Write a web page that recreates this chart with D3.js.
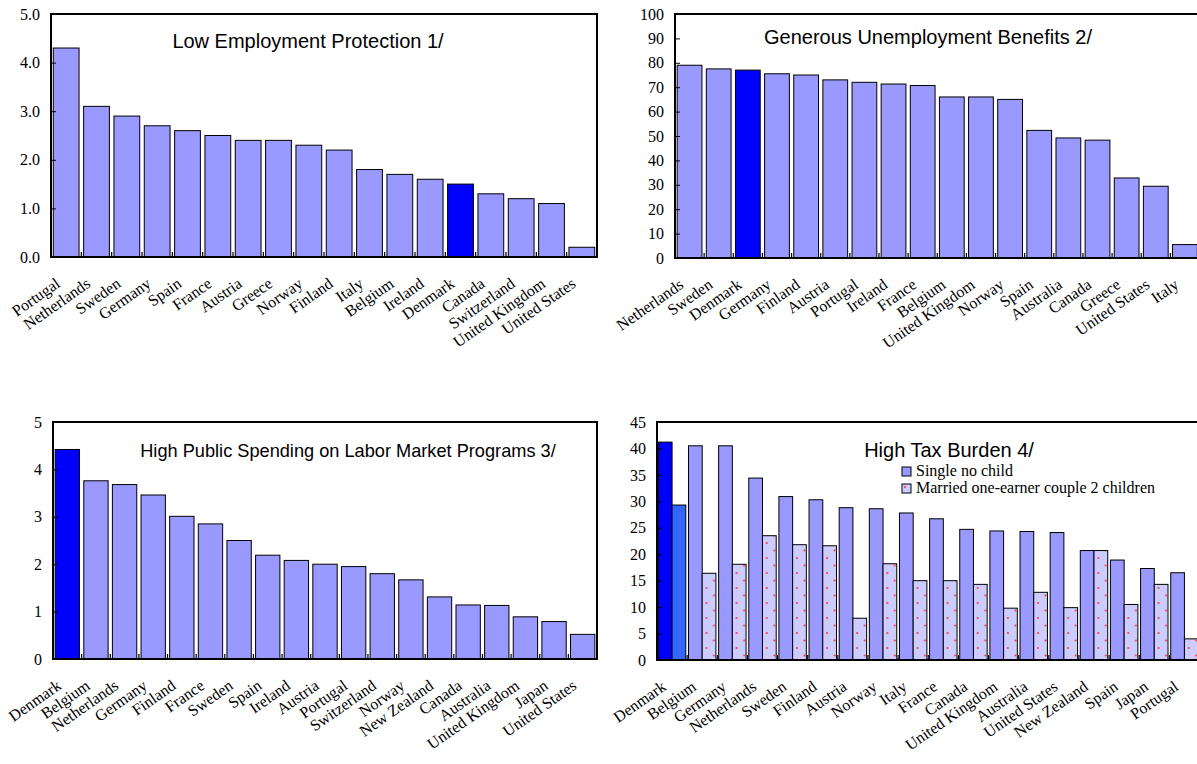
<!DOCTYPE html>
<html>
<head>
<meta charset="utf-8">
<script src="https://cdn.jsdelivr.net/npm/d3@7"></script>
<style>
  body { margin: 0; background: #fff; }
  svg { display: block; }
</style>
</head>
<body>
<svg id="chart" width="1197" height="764"></svg>
<script>
// ---- Data ----
const protectionCountries = ["Portugal", "Netherlands", "Sweden", "Germany", "Spain", "France", "Austria", "Greece", "Norway", "Finland", "Italy", "Belgium", "Ireland", "Denmark", "Canada", "Switzerland", "United Kingdom", "United States"];
const protectionValues = [4.3, 3.1, 2.9, 2.7, 2.6, 2.5, 2.4, 2.4, 2.3, 2.2, 1.8, 1.7, 1.6, 1.5, 1.3, 1.2, 1.1, 0.2];
const protectionTicks = [0, 1, 2, 3, 4, 5];

const benefitCountries = ["Netherlands", "Sweden", "Denmark", "Germany", "Finland", "Austria", "Portugal", "Ireland", "France", "Belgium", "United Kingdom", "Norway", "Spain", "Australia", "Canada", "Greece", "United States", "Italy"];
const benefitValues = [79, 77.5, 77, 75.5, 75, 73, 72, 71.3, 70.7, 66, 66, 65, 52.3, 49.2, 48.3, 32.8, 29.4, 5.5];
const benefitTicks = [0, 10, 20, 30, 40, 50, 60, 70, 80, 90, 100];

const spendingCountries = ["Denmark", "Belgium", "Netherlands", "Germany", "Finland", "France", "Sweden", "Spain", "Ireland", "Austria", "Portugal", "Switzerland", "Norway", "New Zealand", "Canada", "Australia", "United Kingdom", "Japan", "United States"];
const spendingValues = [4.42, 3.76, 3.68, 3.46, 3.01, 2.85, 2.5, 2.19, 2.08, 2.0, 1.95, 1.8, 1.67, 1.31, 1.14, 1.13, 0.89, 0.79, 0.52];
const spendingTicks = [0, 1, 2, 3, 4, 5];

const taxCountries = ["Denmark", "Belgium", "Germany", "Netherlands", "Sweden", "Finland", "Austria", "Norway", "Italy", "France", "Canada", "United Kingdom", "Australia", "United States", "New Zealand", "Spain", "Japan", "Portugal"];
const taxSingle = [41.2, 40.5, 40.5, 34.4, 30.9, 30.3, 28.8, 28.6, 27.8, 26.7, 24.7, 24.4, 24.3, 24.1, 20.7, 18.9, 17.3, 16.5];
const taxMarried = [29.3, 16.4, 18.1, 23.5, 21.8, 21.6, 7.9, 18.2, 15.0, 15.0, 14.3, 9.8, 12.8, 9.9, 20.7, 10.5, 14.3, 4.0];
const taxTicks = [0, 5, 10, 15, 20, 25, 30, 35, 40, 45];
const taxSeries = ["Single no child", "Married one-earner couple 2 children"];

const highlight = "Denmark";

// ---- Styles ----
const LIGHT = "#9999ff";
const DARK = "#0000ff";
const MID = "#3366ff";
const PALE = "#ccccff";
const SERIF = "'Liberation Serif', 'Times New Roman', serif";
const SANS = "'Liberation Sans', Arial, sans-serif";

const svg = d3.select("#chart");

// dotted fill for the second tax series
const defs = svg.append("defs");
const pat = defs.append("pattern")
  .attr("id", "dots").attr("patternUnits", "userSpaceOnUse")
  .attr("width", 15).attr("height", 15);
pat.append("rect").attr("width", 15).attr("height", 15).attr("fill", PALE);
pat.append("circle").attr("cx", 3).attr("cy", 3).attr("r", 1).attr("fill", "#ff3030");
pat.append("circle").attr("cx", 10.5).attr("cy", 10.5).attr("r", 1).attr("fill", "#ff3030");

function drawFrameAndAxes(g, box, x, y, ticks, fmt, categories) {
  // y axis ticks pointing into the plot
  const yAxis = d3.axisLeft(y).tickValues(ticks).tickFormat(fmt)
    .tickSizeInner(-5).tickSizeOuter(0).tickPadding(11);
  const ya = g.append("g").attr("transform", `translate(${box.x0},0)`).call(yAxis);
  ya.select(".domain").remove();
  ya.selectAll("line").attr("stroke", "#000").attr("stroke-width", 1);
  ya.selectAll("text").attr("font-family", SERIF).attr("font-size", 16).attr("fill", "#000");

  // category labels, slanted
  const xAxis = d3.axisBottom(x).tickSize(0);
  const xa = g.append("g").attr("transform", `translate(0,${box.y1})`).call(xAxis);
  xa.select(".domain").remove();
  xa.selectAll("text")
    .attr("font-family", SERIF).attr("font-size", 16).attr("fill", "#000")
    .attr("x", 0).attr("y", 0).attr("dy", null)
    .attr("text-anchor", "end")
    .attr("transform", "translate(-5,29) rotate(-35)");

  // small ticks at the category boundaries
  const step = x.step();
  const bounds = categories.slice(1).map(c => x(c) - (step - x.bandwidth()) / 2);
  g.append("g").selectAll("line").data(bounds).join("line")
    .attr("x1", d => d).attr("x2", d => d)
    .attr("y1", box.y1).attr("y2", box.y1 - 5)
    .attr("stroke", "#000").attr("stroke-width", 1.2);

  // frame
  g.append("rect")
    .attr("x", box.x0).attr("y", box.y0)
    .attr("width", box.x1 - box.x0).attr("height", box.y1 - box.y0)
    .attr("fill", "none").attr("stroke", "#000").attr("stroke-width", 2);
}

function singlePanel(box, categories, values, ticks, fmt, title, tx, ty, tsize) {
  const g = svg.append("g");
  const x = d3.scaleBand().domain(categories).range([box.x0, box.x1])
    .paddingInner(0.15).paddingOuter(0.075);
  const y = d3.scaleLinear().domain([ticks[0], ticks[ticks.length - 1]]).range([box.y1, box.y0]);

  g.append("g").selectAll("rect").data(categories).join("rect")
    .attr("x", d => x(d))
    .attr("y", (d, i) => y(values[i]))
    .attr("width", x.bandwidth())
    .attr("height", (d, i) => y(0) - y(values[i]))
    .attr("fill", d => d === highlight ? DARK : LIGHT)
    .attr("stroke", "#000").attr("stroke-width", 1);

  drawFrameAndAxes(g, box, x, y, ticks, fmt, categories);

  g.append("text").attr("x", tx).attr("y", ty)
    .attr("text-anchor", "middle")
    .attr("font-family", SANS).attr("font-size", tsize).attr("fill", "#000")
    .text(title);
  return g;
}

// ---- Panel 1 ----
singlePanel({x0: 51, x1: 597, y0: 14, y1: 257},
  protectionCountries, protectionValues, protectionTicks, d3.format(".1f"),
  "Low Employment Protection 1/", 308, 48, 20);

// ---- Panel 2 (runs to the right edge) ----
singlePanel({x0: 675, x1: 1199.5, y0: 14, y1: 258},
  benefitCountries, benefitValues, benefitTicks, d3.format("d"),
  "Generous Unemployment Benefits 2/", 928, 44, 20);

// ---- Panel 3 ----
singlePanel({x0: 53, x1: 597, y0: 422, y1: 659},
  spendingCountries, spendingValues, spendingTicks, d3.format("d"),
  "High Public Spending on Labor Market Programs 3/", 348, 457, 18.2);

// ---- Panel 4 : grouped bars ----
(function () {
  const box = {x0: 657, x1: 1199.5, y0: 422, y1: 660};
  const g = svg.append("g");
  const x = d3.scaleBand().domain(taxCountries).range([box.x0, box.x1])
    .paddingInner(0.09).paddingOuter(0.045);
  const xs = d3.scaleBand().domain(taxSeries).range([0, x.bandwidth()]);
  const y = d3.scaleLinear().domain([0, 45]).range([box.y1, box.y0]);

  const rows = taxCountries.map((c, i) => ({c, vals: [taxSingle[i], taxMarried[i]]}));
  const grp = g.append("g").selectAll("g").data(rows).join("g")
    .attr("transform", d => `translate(${x(d.c)},0)`);
  grp.selectAll("rect").data(d => d.vals.map((v, k) => ({c: d.c, s: taxSeries[k], k, v}))).join("rect")
    .attr("x", d => xs(d.s))
    .attr("y", d => y(d.v))
    .attr("width", xs.bandwidth())
    .attr("height", d => y(0) - y(d.v))
    .attr("fill", d => d.c === highlight ? (d.k === 0 ? DARK : MID) : (d.k === 0 ? LIGHT : "url(#dots)"))
    .attr("stroke", "#000").attr("stroke-width", 1);

  drawFrameAndAxes(g, box, x, y, taxTicks, d3.format("d"), taxCountries);

  g.append("text").attr("x", 949).attr("y", 457)
    .attr("text-anchor", "middle")
    .attr("font-family", SANS).attr("font-size", 20).attr("fill", "#000")
    .text("High Tax Burden 4/");

  // legend
  const lg = g.append("g").attr("transform", "translate(902,467)");
  const items = lg.selectAll("g").data(taxSeries).join("g")
    .attr("transform", (d, i) => `translate(0,${i * 17})`);
  items.append("rect").attr("width", 9).attr("height", 9)
    .attr("fill", (d, i) => i === 0 ? LIGHT : "url(#dots)")
    .attr("stroke", "#000").attr("stroke-width", 1);
  items.append("text").attr("x", 14).attr("y", 9)
    .attr("font-family", SERIF).attr("font-size", 16).attr("fill", "#000")
    .text(d => d);
})();
</script>
</body>
</html>
